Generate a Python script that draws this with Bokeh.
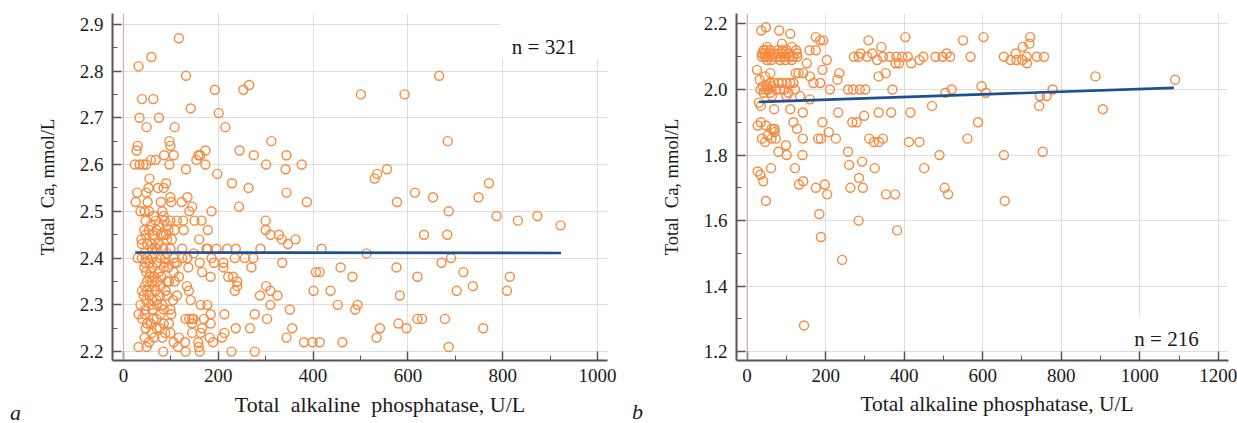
from bokeh.plotting import figure
from bokeh.models import (Range1d, SingleIntervalTicker, NumeralTickFormatter,
                          Span, Label, BoxAnnotation, Div)
from bokeh.layouts import row, column
from bokeh.embed import file_html
from bokeh.resources import INLINE

# ---------------- panel a: total ALP vs total Ca (n = 321) ----------------
alp_a = [
    117, 59, 32, 132, 666, 265, 193, 253, 501, 593, 39, 63, 142, 201, 34, 75,
    49, 108, 215, 97, 312, 684, 30, 99, 28, 173, 245,
    86, 106, 158, 162, 275, 344, 58, 68, 154,
    24, 34, 42, 48, 97, 173, 301, 376, 132, 342, 556, 198, 535, 55, 530,
    90, 229, 771, 53, 73, 85, 264, 29, 48, 344, 615, 99, 135, 653, 749,
    26, 51, 79, 101, 123, 387, 577, 145, 244,
    36, 45, 54, 82, 139, 186, 686, 64, 85, 787, 873,
    87, 99, 113, 126, 150, 165, 300, 832, 47, 68,
    58, 92, 922, 75,
    54, 70, 108, 127, 178, 300, 44, 95,
    62, 80, 85, 90, 310, 328, 634, 683, 47,
    38, 92, 160, 334, 363, 66, 102,
    39, 50, 73, 347, 60,
    61, 99, 124, 175, 178, 196, 219, 237, 289, 418, 70, 84,
    148, 513, 45, 66, 92,
    30, 39, 50, 61, 78, 106, 124, 135, 186, 235, 256, 274, 691, 88,
    87, 108, 113, 161, 191, 211, 335, 671, 46, 55, 70,
    85, 137, 211, 270, 458, 576, 44, 62, 95,
    106, 166, 406, 414, 717, 48, 57, 75,
    65, 117, 184, 221, 231, 483, 620, 815, 55, 80,
    50, 71, 92, 108, 240, 60, 96,
    55, 78, 134, 240, 301, 737, 45, 66,
    39, 89, 138, 235, 310, 401, 437, 703, 809, 50, 68,
    43, 92, 113, 288, 325, 583, 55, 77,
    61, 105, 142, 48, 70,
    36, 71, 163, 177, 310, 452, 494, 58, 82,
    46, 85, 351, 489, 62, 99,
    32, 101, 184, 213, 277, 45, 78,
    64, 131, 139, 145, 148, 170, 303, 620, 630, 678, 40, 70,
    50, 96, 145, 184, 580, 58, 85,
    77, 166, 237, 267, 356, 541, 597, 759, 47, 70,
    99, 145, 163, 213, 60, 88,
    45, 82, 117, 182, 208, 344, 534, 65,
    54, 106, 130, 158, 189, 381, 399, 414, 462,
    32, 49, 115, 159, 686,
    84, 131, 161, 228, 277,
]
ca_a = (
    [2.87, 2.83, 2.81, 2.79, 2.79, 2.77, 2.76, 2.76, 2.75, 2.75, 2.74, 2.74,
     2.72, 2.71, 2.70, 2.70, 2.68, 2.68, 2.68, 2.65, 2.65, 2.65, 2.64, 2.64,
     2.63, 2.63, 2.63]
    + [2.62] * 6 + [2.61] * 3 + [2.60] * 8 + [2.59] * 3 + [2.58] * 2
    + [2.57] * 2 + [2.56] * 3 + [2.55] * 4 + [2.54] * 4 + [2.53] * 4
    + [2.52] * 7 + [2.51] * 2 + [2.50] * 7 + [2.49] * 4 + [2.48] * 10
    + [2.47] * 4 + [2.46] * 8 + [2.45] * 9 + [2.44] * 7 + [2.43] * 5
    + [2.42] * 12 + [2.41] * 5 + [2.40] * 14 + [2.39] * 11 + [2.38] * 9
    + [2.37] * 8 + [2.36] * 10 + [2.35] * 7 + [2.34] * 8 + [2.33] * 11
    + [2.32] * 8 + [2.31] * 5 + [2.30] * 9 + [2.29] * 6 + [2.28] * 7
    + [2.27] * 12 + [2.26] * 7 + [2.25] * 10 + [2.24] * 6 + [2.23] * 8
    + [2.22] * 9 + [2.21] * 5 + [2.20] * 5
)
fit_a_alp = [25, 923]
fit_a_ca = [2.412, 2.411]

# ---------------- panel b: total ALP vs total Ca (n = 216) ----------------
alp_b = [
    48, 36, 82, 110, 175, 403, 602, 721, 186, 194, 309, 550, 89, 719,
    51, 114, 342, 702,
    42, 59, 79, 101, 125, 159, 175, 48, 90,
    38, 55, 68, 91, 105, 127, 289, 319, 508, 684, 45, 80,
    38, 52, 76, 97, 118, 128, 272, 284, 306, 346, 363, 380, 395, 409, 449,
    480, 498, 517, 569, 654, 712, 738, 756, 45, 64, 86, 108,
    51, 84, 114, 203, 331, 439, 671, 686, 701, 62, 98,
    152, 378, 387, 418, 713,
    25, 192,
    59, 124, 131, 143, 235, 353,
    46, 160, 335, 887,
    32, 230, 1090,
    68, 80, 89, 101, 118, 169, 186, 58, 110,
    40, 51, 597, 63,
    34, 46, 74, 95, 122, 211, 257, 270, 287, 301, 370, 521, 778, 55, 84,
    42, 59, 505, 608, 105,
    63, 100, 135, 746, 763,
    160, 30, 35, 471, 744, 69, 110, 906,
    142, 232, 335, 367, 416, 298,
    118, 192, 268, 279, 588, 35,
    27, 48, 68, 70, 127, 62, 70, 208, 53,
    38, 73, 142, 181, 188, 226, 311, 346, 561, 62,
    46, 323, 336, 412, 439, 99,
    80, 257, 753, 101, 141, 490, 654,
    293, 260, 61, 122, 325, 451, 27, 34, 285, 41, 143, 132, 198,
    175, 263, 295, 503, 204, 354, 377, 512, 48, 656,
    184, 284, 382, 188, 242, 145,
]
ca_b = (
    [2.19, 2.18, 2.18, 2.17] + [2.16] * 4 + [2.15] * 4 + [2.14] * 2
    + [2.13] * 4 + [2.12] * 9 + [2.11] * 12 + [2.10] * 27 + [2.09] * 11
    + [2.08] * 5 + [2.06] * 2 + [2.05] * 6 + [2.04] * 4 + [2.03] * 3
    + [2.02] * 9 + [2.01] * 4 + [2.00] * 15 + [1.99] * 5 + [1.98] * 5
    + [1.97, 1.96] + [1.95] * 3 + [1.94] * 3 + [1.93] * 5 + [1.92]
    + [1.90] * 6 + [1.89] * 2 + [1.88] * 4 + [1.87] * 2 + [1.86]
    + [1.85] * 10 + [1.84] * 5 + [1.83] + [1.81] * 3 + [1.80] * 4
    + [1.78, 1.77] + [1.76] * 4 + [1.75, 1.74, 1.73] + [1.72] * 2
    + [1.71] * 2 + [1.70] * 4 + [1.68] * 4 + [1.66] * 2
    + [1.62, 1.60, 1.57, 1.55, 1.48, 1.28]
)
fit_b_alp = [30, 1087]
fit_b_ca = [1.962, 2.005]

X_TITLE_A = "Total\u00a0 alkaline\u00a0 phosphatase, U/L"
X_TITLE_B = "Total alkaline phosphatase, U/L"
Y_TITLE = "Total\u00a0 Ca, mmol/L"

SERIF = "Liberation Serif"
ORANGE = "#f68a3e"
BLUE = "#1c4f93"
AXIS = "#555555"
INK = "#1a1a1a"


def style_axes(p, x_step, y_step):
    p.xaxis.ticker = SingleIntervalTicker(interval=x_step, num_minor_ticks=2)
    p.yaxis.ticker = SingleIntervalTicker(interval=y_step, num_minor_ticks=2)
    p.yaxis.formatter = NumeralTickFormatter(format="0.0")
    for ax in (p.xaxis[0], p.yaxis[0]):
        ax.major_tick_in = 9
        ax.major_tick_out = 0
        ax.minor_tick_in = 5
        ax.minor_tick_out = 0
        ax.axis_line_color = AXIS
        ax.axis_line_width = 2
        ax.major_tick_line_color = AXIS
        ax.major_tick_line_width = 1.5
        ax.minor_tick_line_color = AXIS
        ax.major_label_text_font = SERIF
        ax.major_label_text_font_size = "19px"
        ax.major_label_text_color = INK
    p.xaxis.major_label_standoff = 8
    p.yaxis.major_label_standoff = 9
    p.yaxis.axis_label = Y_TITLE
    p.yaxis.axis_label_text_font = SERIF
    p.yaxis.axis_label_text_font_size = "18.5px"
    p.yaxis.axis_label_text_font_style = "normal"
    p.yaxis.axis_label_text_color = INK
    p.yaxis.axis_label_standoff = 19
    p.grid.grid_line_color = "#bcbcbc"
    p.grid.grid_line_dash = "1 1"
    p.grid.grid_line_width = 1
    p.outline_line_color = None


def panel(width, xr, yr, borders):
    left, right, top, bottom = borders
    return figure(width=width, height=395, x_range=Range1d(*xr), y_range=Range1d(*yr),
                  output_backend="svg", toolbar_location=None,
                  min_border_left=left, min_border_right=right,
                  min_border_top=top, min_border_bottom=bottom)


# panel a
pa = panel(620, (-23, 1021), (2.181, 2.923), (112, 13, 13, 35))
style_axes(pa, 200, 0.1)
pa.add_layout(Span(location=0, dimension="height", line_color="#d9a4a4", line_width=1))
pa.scatter(alp_a, ca_a, marker="circle", size=9, fill_color=None,
           line_color=ORANGE, line_width=1.4)
pa.line(fit_a_alp, fit_a_ca, line_color=BLUE, line_width=2.6)
pa.add_layout(BoxAnnotation(left=795, bottom=2.827, fill_color="white", fill_alpha=1,
                            line_alpha=0))
pa.add_layout(Label(x=887, y=2.852, text="n = 321", text_align="center",
                    text_baseline="alphabetic", text_font=SERIF,
                    text_font_size="21px", text_color=INK))

# panel b
pb = panel(617, (-27, 1226), (1.173, 2.232), (116, 9, 11, 34))
style_axes(pb, 200, 0.2)
pb.add_layout(Span(location=0, dimension="height", line_color="#d9a4a4", line_width=1))
pb.scatter(alp_b, ca_b, marker="circle", size=9, fill_color=None,
           line_color=ORANGE, line_width=1.4)
pb.line(fit_b_alp, fit_b_ca, line_color=BLUE, line_width=2.6)
pb.add_layout(BoxAnnotation(left=985, right=1185, bottom=1.212, top=1.309,
                            fill_color="white", fill_alpha=1, line_alpha=0))
pb.add_layout(Label(x=1068, y=1.239, text="n = 216", text_align="center",
                    text_baseline="alphabetic", text_font=SERIF,
                    text_font_size="21px", text_color=INK))

# strip under both panels: x-axis titles and the panel letters
span_css = ("position:absolute;line-height:1;white-space:pre;"
            "font-family:'Liberation Serif',serif;color:#1a1a1a;")
strip_html = (
    '<div style="position:relative;width:1237px;height:28px;">'
    f'<span style="{span_css}left:10px;top:7px;font-size:22px;font-style:italic;">a</span>'
    f'<span style="{span_css}left:380px;top:-1px;font-size:22px;'
    f'transform:translateX(-50%);">{X_TITLE_A}</span>'
    f'<span style="{span_css}left:632px;top:6px;font-size:22px;font-style:italic;">b</span>'
    f'<span style="{span_css}left:997px;top:-1px;font-size:21.5px;'
    f'transform:translateX(-50%);">{X_TITLE_B}</span>'
    '</div>'
)
strip = Div(text=strip_html, width=1237, height=28, margin=0)

layout = column(row(pa, pb), strip)
open("out.html", "w").write(file_html(layout, INLINE))
